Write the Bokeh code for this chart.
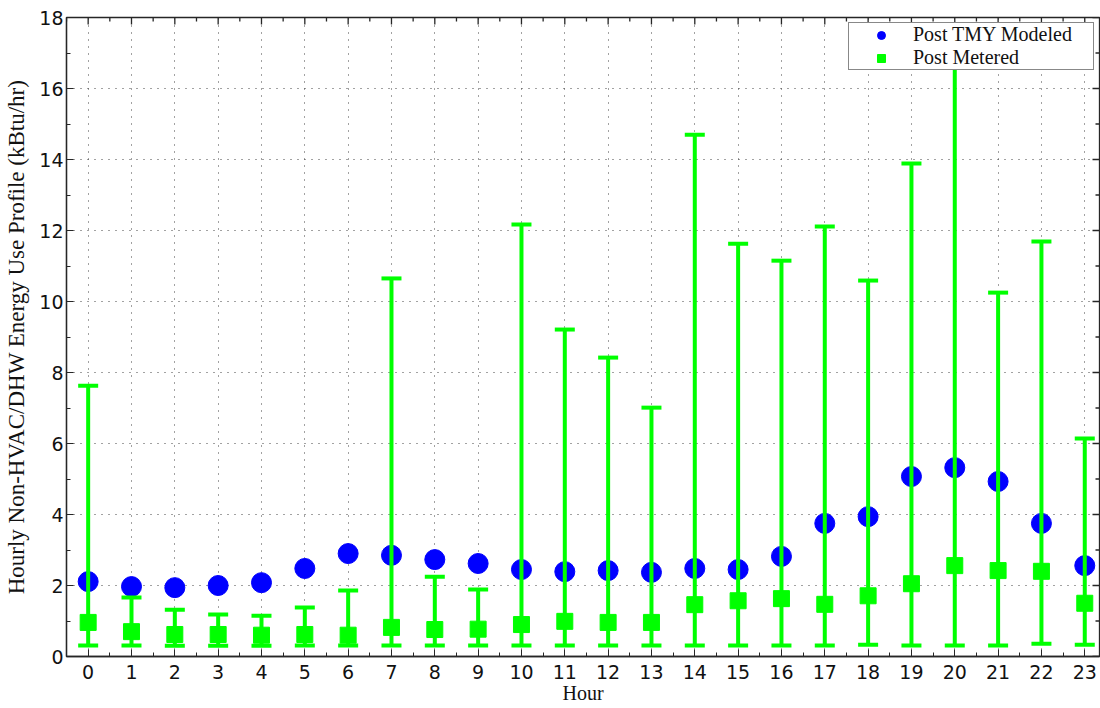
import math
from bokeh.plotting import figure
from bokeh.models import (FixedTicker, Legend, LegendItem, Range1d,
                          ColumnDataSource)
from bokeh.embed import file_html
from bokeh.resources import INLINE

# ---------------- data ----------------
hours = list(range(24))
hour_labels = [str(h) for h in hours]
post_tmy_modeled = [2.11, 1.97, 1.94, 2.00, 2.08, 2.48, 2.90, 2.85, 2.73, 2.62,
                    2.45, 2.39, 2.42, 2.37, 2.48, 2.45, 2.82, 3.75, 3.94, 5.07,
                    5.32, 4.93, 3.75, 2.56]
post_metered = [0.96, 0.70, 0.62, 0.62, 0.60, 0.62, 0.60, 0.82, 0.76, 0.77,
                0.90, 0.99, 0.96, 0.96, 1.46, 1.57, 1.63, 1.47, 1.71, 2.05,
                2.56, 2.42, 2.40, 1.50]
metered_upper = [7.63, 1.66, 1.32, 1.18, 1.15, 1.38, 1.86, 10.65, 2.25, 1.89,
                 12.17, 9.21, 8.42, 7.01, 14.70, 11.63, 11.15, 12.11, 10.59, 13.89,
                 16.65, 10.25, 11.69, 6.14]
metered_lower = [0.31, 0.31, 0.30, 0.30, 0.30, 0.31, 0.31, 0.31, 0.31, 0.31,
                 0.31, 0.31, 0.31, 0.31, 0.31, 0.31, 0.31, 0.31, 0.33, 0.31,
                 0.31, 0.31, 0.36, 0.33]
y_ticks = [0, 2, 4, 6, 8, 10, 12, 14, 16, 18]
x_title = "Hour"
y_title = "Hourly Non-HVAC/DHW Energy Use Profile (kBtu/hr)"
series_names = ["Post TMY Modeled", "Post Metered"]

src = ColumnDataSource(dict(hour=hours, modeled=post_tmy_modeled,
                            metered=post_metered, upper=metered_upper,
                            lower=metered_lower))

BLUE = "#0000FF"
GREEN = "#00FF00"
AXC = "#262626"
TXT = "#111111"
TICK_FONT = "DejaVu Sans"
SERIF = "Liberation Serif"

x_lo, x_hi = -0.5, 23.34
y_lo, y_hi = y_ticks[0], y_ticks[-1]

p = figure(width=1100, height=708, output_backend="svg", toolbar_location=None,
           x_range=Range1d(x_lo, x_hi), y_range=Range1d(y_lo, y_hi),
           min_border_left=66, min_border_right=1, min_border_top=17,
           min_border_bottom=52, x_axis_label=x_title, y_axis_label=y_title)
p.outline_line_color = AXC
p.outline_line_width = 1.3
p.background_fill_color = "white"
p.border_fill_color = "white"

x_minor = [h + 0.5 for h in range(-1, 24)]
y_minor = [v + 1 for v in y_ticks[:-1]]
p.xaxis.ticker = FixedTicker(ticks=hours, minor_ticks=x_minor)
p.yaxis.ticker = FixedTicker(ticks=y_ticks, minor_ticks=y_minor)
p.xaxis.major_label_overrides = {h: s for h, s in zip(hours, hour_labels)}

for ax in (p.xaxis[0], p.yaxis[0]):
    ax.axis_line_color = AXC
    ax.axis_line_width = 1.3
    ax.major_tick_line_color = AXC
    ax.minor_tick_line_color = AXC
    ax.major_tick_in = 7
    ax.major_tick_out = 0
    ax.minor_tick_in = 4
    ax.minor_tick_out = 0
    ax.major_label_text_font = TICK_FONT
    ax.major_label_text_font_size = "19px"
    ax.major_label_text_color = TXT
    ax.axis_label_text_font = SERIF
    ax.axis_label_text_font_style = "normal"
    ax.axis_label_text_color = TXT

p.xaxis.axis_label_text_font_size = "20px"
p.yaxis.axis_label_text_font_size = "23px"
p.xaxis.major_label_standoff = 8
p.xaxis.axis_label_standoff = 0
p.yaxis.major_label_standoff = 3
p.yaxis.axis_label_standoff = 7

for g in (p.xgrid[0], p.ygrid[0]):
    g.grid_line_color = "#444444"
    g.grid_line_dash = "1 6"
    g.grid_line_width = 1

# mirrored inward ticks on the top and right frame edges (clipped to frame)
top_src = ColumnDataSource(dict(x=hours, y=[y_hi] * len(hours)))
top_minor_src = ColumnDataSource(dict(x=x_minor, y=[y_hi] * len(x_minor)))
right_src = ColumnDataSource(dict(x=[x_hi] * len(y_ticks), y=y_ticks))
right_minor_src = ColumnDataSource(dict(x=[x_hi] * len(y_minor), y=y_minor))
p.scatter("x", "y", source=top_src, marker="dash", size=14, angle=math.pi / 2,
          line_color=AXC, line_width=1.3)
p.scatter("x", "y", source=top_minor_src, marker="dash", size=8,
          angle=math.pi / 2, line_color=AXC, line_width=1.3)
p.scatter("x", "y", source=right_src, marker="dash", size=14,
          line_color=AXC, line_width=1.3)
p.scatter("x", "y", source=right_minor_src, marker="dash", size=8,
          line_color=AXC, line_width=1.3)

# data glyphs
circ = p.scatter("hour", "modeled", source=src, marker="circle", size=20,
                 fill_color=BLUE, line_color=BLUE)
p.segment(x0="hour", y0="lower", x1="hour", y1="upper", source=src,
          line_color=GREEN, line_width=4)
p.scatter("hour", "upper", source=src, marker="dash", size=20,
          line_color=GREEN, line_width=4)
p.scatter("hour", "lower", source=src, marker="dash", size=20,
          line_color=GREEN, line_width=4)
sq = p.scatter("hour", "metered", source=src, marker="square", size=16,
               fill_color=GREEN, line_color=GREEN)

legend = Legend(items=[LegendItem(label=series_names[0], renderers=[circ]),
                       LegendItem(label=series_names[1], renderers=[sq])],
                location="top_right", margin=5, padding=0, spacing=0,
                glyph_width=64, glyph_height=20, label_height=17,
                label_width=180, label_standoff=0,
                label_text_font=SERIF, label_text_font_size="20px",
                label_text_color=TXT,
                border_line_color=TXT, border_line_width=1.2,
                background_fill_color="white", background_fill_alpha=1)
p.add_layout(legend)

open("out.html", "w").write(file_html(p, INLINE))
